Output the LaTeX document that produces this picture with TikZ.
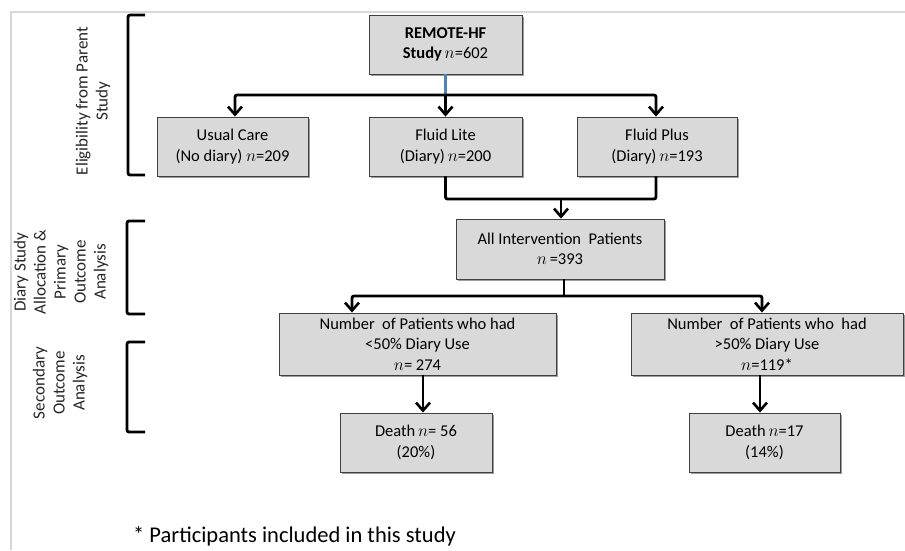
\documentclass[tikz,border=0pt]{standalone}
\usepackage{fontspec}
\setmainfont{Carlito}
\usetikzlibrary{arrows.meta,shadows}
\definecolor{boxgray}{RGB}{217,217,217}
\definecolor{boxedge}{RGB}{64,64,64}
\definecolor{bluelink}{RGB}{79,129,189}
\definecolor{framegray}{RGB}{215,215,215}
\begin{document}
\begin{tikzpicture}[x=1pt,y=-1pt,
  box/.style={draw=boxedge, fill=boxgray, line width=0.9pt, inner sep=0pt, align=center,
    font=\fontsize{16.5}{20.5}\selectfont,
    drop shadow={shadow xshift=1.5pt,shadow yshift=-1.5pt,opacity=0.55,fill=black!70}},
  conn/.style={line width=2.8pt, rounded corners=2pt},
  arr/.style={conn, -{Straight Barb[length=8pt,width=14pt,line width=2.6pt]}},
  brk/.style={line width=2.8pt, rounded corners=2pt},
  lab/.style={rotate=90, align=center, font=\fontsize{17}{20}\selectfont, text=black!85}]
\useasboundingbox (0,0) rectangle (905,550);
\fill[white] (0,0) rectangle (905,550);
\draw[framegray, line width=1.2pt] (11,550) -- (11,12) -- (905,12);

% boxes
\node[box, minimum width=153pt, minimum height=59pt] (remote) at (445.5,44.5)
  {\textbf{REMOTE-HF}\\\textbf{Study}\,$n$=602};
\node[box, minimum width=151pt, minimum height=59pt] (usual) at (232.5,146.5)
  {Usual Care\\(No diary) $n$=209};
\node[box, minimum width=153pt, minimum height=59pt] (lite) at (445.5,146.5)
  {Fluid Lite\\(Diary)\,$n$=200};
\node[box, minimum width=160pt, minimum height=59pt] (plus) at (657,146.5)
  {Fluid Plus\\(Diary)\,$n$=193};
\node[box, minimum width=208pt, minimum height=60pt] (all) at (560,249)
  {All Intervention\ \ Patients\\$n$\,=393};
\node[box, minimum width=277pt, minimum height=62pt] (lowL) at (417.5,344)
  {Number\ \ of Patients who had\\<50\% Diary Use\\$n$= 274};
\node[box, minimum width=272pt, minimum height=62pt] (lowR) at (767,344)
  {Number\ \ of Patients who\ \ had\\>50\% Diary Use\\$n$=119*};
\node[box, minimum width=152pt, minimum height=59pt] (deathL) at (416,442.5)
  {Death\,$n$= 56\\(20\%)};
\node[box, minimum width=151pt, minimum height=59pt] (deathR) at (764.5,442.5)
  {Death\,$n$=17\\(14\%)};

% connectors
\coordinate (j1) at (445.5,95);
\draw[bluelink, line width=2.4pt] (remote.south) -- (j1);
\draw[arr] (j1) -| ([xshift=2.5pt]usual.north);
\draw[arr] (j1) -- (lite.north);
\draw[arr] (j1) -| ([xshift=-1pt]plus.north);

\coordinate (j2) at (561,199);
\draw[conn] (lite.south) |- (j2) -| ([xshift=-1pt]plus.south);
\draw[arr] (j2) -- (j2 |- all.north);

\coordinate (j3) at (564,296);
\draw[conn] (all.south -| j3) -- (j3);
\draw[arr] (j3) -| ([xshift=-65.5pt]lowL.north);
\draw[arr] (j3) -| ([xshift=-5pt]lowR.north);

\draw[arr] ([xshift=5.5pt]lowL.south) -- ([xshift=7pt]deathL.north);
\draw[arr] ([xshift=-7pt]lowR.south) -- ([xshift=-4.5pt]deathR.north);

% brackets
\draw[brk] (145,15) -- (128,15) -- (128,175) -- (145,175);
\draw[brk] (145,221) -- (127,221) -- (127,314) -- (145,314);
\draw[brk] (145,342) -- (127,342) -- (127,432) -- (145,432);

% side labels
\node[lab] (l1) at (93,101) {Eligibility from Parent\\Study};
\node[lab] (l2) at (61,272) {Diary Study\\Allocation \&\\Primary\\Outcome\\Analysis};
\node[lab] (l3) at (60,383) {Secondary\\Outcome\\Analysis};

% footnote
\node[anchor=base west, inner sep=0pt, font=\fontsize{22.5}{26}\selectfont] (foot) at (133,542)
  {* Participants included in this study};
\end{tikzpicture}
\end{document}
